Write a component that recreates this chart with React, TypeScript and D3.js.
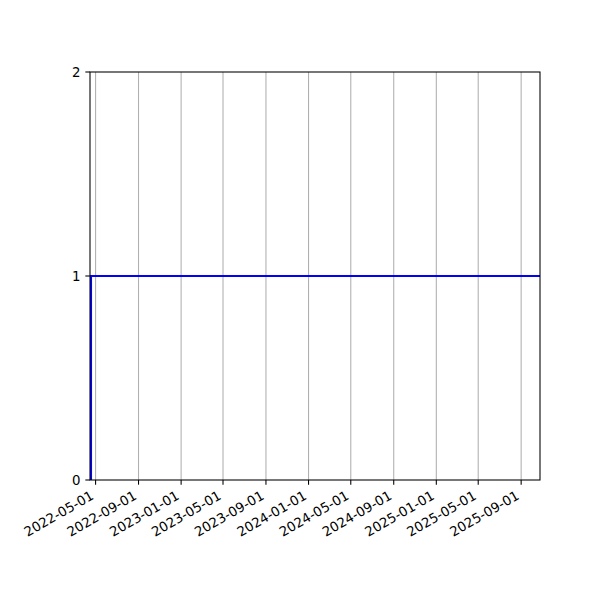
import React, { useEffect, useRef } from "react";
import * as d3 from "d3";

const stepDates = ["2022-04-18", "2022-04-18", "2025-10-25"];
const stepValues = [0, 1, 1];
const xTickLabels = [
  "2022-05-01", "2022-09-01", "2023-01-01", "2023-05-01", "2023-09-01", "2024-01-01",
  "2024-05-01", "2024-09-01", "2025-01-01", "2025-05-01", "2025-09-01",
];
const yTicks = [0, 1, 2];
const xDomain = ["2022-04-15", "2025-10-25"];

export default function App() {
  const ref = useRef<SVGSVGElement>(null);
  useEffect(() => {
    const svg = d3.select(ref.current);
    svg.selectAll("*").remove();
    const W = 600, H = 600;
    const m = { l: 90, r: 60, t: 72, b: 120 };
    const parse = d3.utcParse("%Y-%m-%d");
    const x = d3.scaleUtc().domain(xDomain.map((d) => parse(d)!)).range([m.l, W - m.r]);
    const y = d3.scaleLinear().domain([0, 2]).range([H - m.b, m.t]);
    const font = "DejaVu Sans, sans-serif";
    svg.append("rect").attr("width", W).attr("height", H).attr("fill", "#fff");

    const g = svg.append("g");
    // grid
    xTickLabels.forEach((t) => {
      const xp = x(parse(t)!);
      g.append("line").attr("x1", xp).attr("x2", xp).attr("y1", y(0)).attr("y2", y(2))
        .attr("stroke", "#b0b0b0").attr("stroke-width", 1.07);
    });
    // data line
    const pts = stepDates.map((d, i) => [x(parse(d)!), y(stepValues[i])] as [number, number]);
    g.append("path").attr("d", d3.line()(pts)!).attr("fill", "none")
      .attr("stroke", "#0000ff").attr("stroke-width", 2);
    // spines
    g.append("rect").attr("x", m.l).attr("y", m.t).attr("width", W - m.r - m.l)
      .attr("height", H - m.b - m.t).attr("fill", "none").attr("stroke", "#000").attr("stroke-width", 1.07);
    // x ticks
    xTickLabels.forEach((t) => {
      const xp = x(parse(t)!);
      g.append("line").attr("x1", xp).attr("x2", xp).attr("y1", y(0)).attr("y2", y(0) + 4.67)
        .attr("stroke", "#000").attr("stroke-width", 1.07);
      g.append("text").attr("transform", `translate(${xp - 6},${y(0) + 9.5}) rotate(-30)`)
        .attr("text-anchor", "end").attr("dy", "0.76em")
        .attr("font-family", font).attr("font-size", 13.33).attr("fill", "#000").text(t);
    });
    // y ticks
    yTicks.forEach((v) => {
      const yp = y(v);
      g.append("line").attr("x1", m.l - 4.67).attr("x2", m.l).attr("y1", yp).attr("y2", yp)
        .attr("stroke", "#000").attr("stroke-width", 1.07);
      g.append("text").attr("x", m.l - 9.5).attr("y", yp).attr("dy", "0.35em")
        .attr("text-anchor", "end").attr("font-family", font).attr("font-size", 13.33)
        .attr("fill", "#000").text(String(v));
    });
  }, []);
  return (
    <svg ref={ref} width={600} height={600}
      style={{ position: "absolute", left: 0, top: 0, display: "block" }} />
  );
}
